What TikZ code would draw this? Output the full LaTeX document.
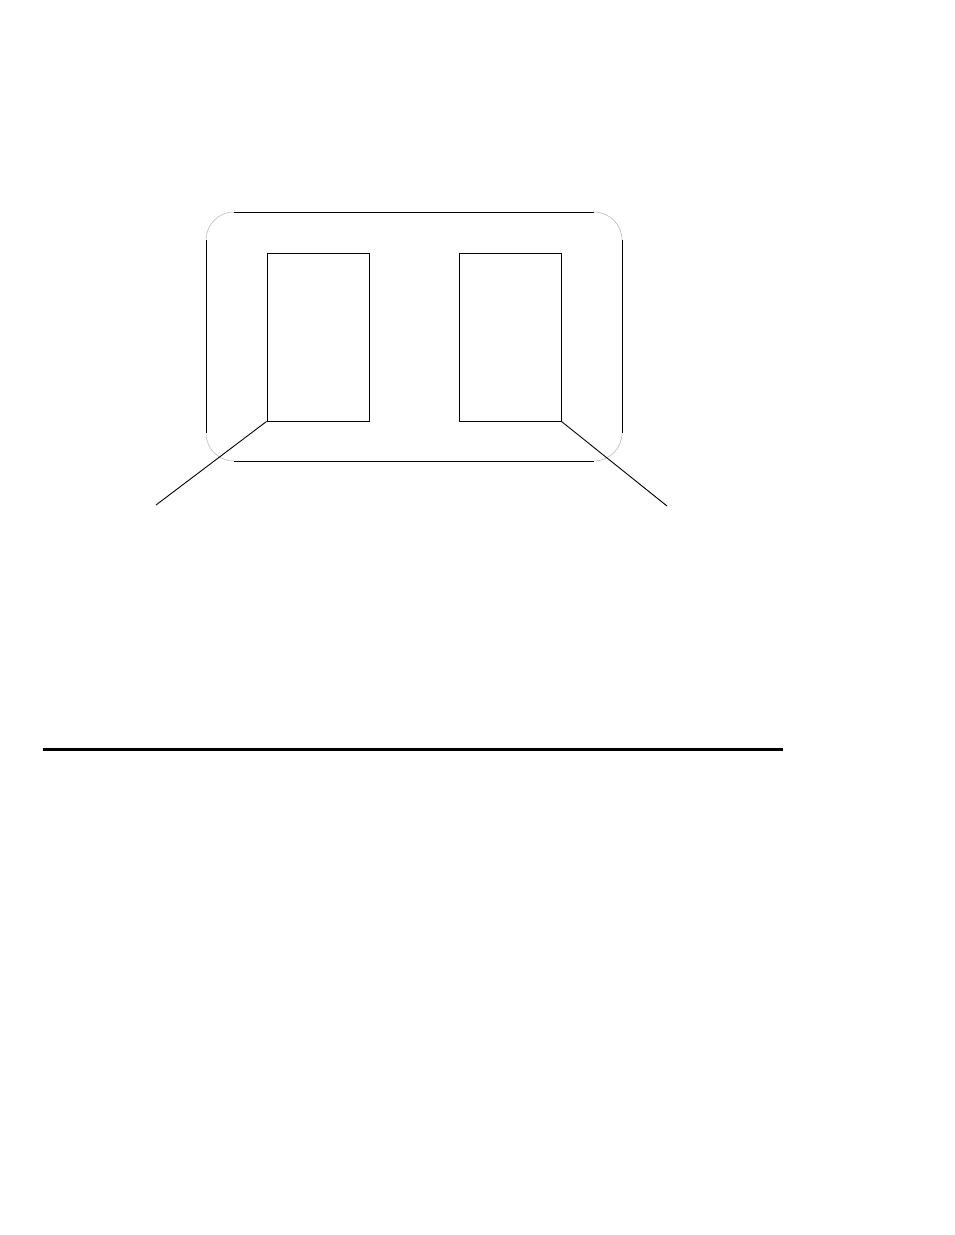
\documentclass[tikz,border=0pt]{standalone}
\usepackage{tikz}
\usetikzlibrary{positioning,calc}

\tikzset{
  cell/.style={draw, line width=0.9pt, minimum width=102pt, minimum height=168pt, inner sep=0pt},
  frame/.style={line width=0.9pt},
  framecorner/.style={line width=0.5pt, gray!60},
  leader/.style={line width=0.9pt}
}

\begin{document}
\begin{tikzpicture}[x=1pt,y=-1pt]
\useasboundingbox (0,0) rectangle (954,1235);

% Outer frame
\draw[frame] (234,212) -- (594,212);
\draw[frame] (622,240) -- (622,433);
\draw[frame] (594,461) -- (234,461);
\draw[frame] (206,433) -- (206,240);
\draw[framecorner] (206,240) arc[start angle=180, end angle=90, x radius=28, y radius=-28];
\draw[framecorner] (594,212) arc[start angle=90, end angle=0, x radius=28, y radius=-28];
\draw[framecorner] (622,433) arc[start angle=0, end angle=-90, x radius=28, y radius=-28];
\draw[framecorner] (234,461) arc[start angle=-90, end angle=-180, x radius=28, y radius=-28];

% Cells
\node[cell] (L) at (318,337) {};
\node[cell] (R) at (510,337) {};

% Leaders
\coordinate (lend) at (156,505);
\coordinate (rend) at (667,506);
\draw[leader] (L.south west) -- (lend);
\draw[leader] (R.south east) -- (rend);

% Rule
\coordinate (ruleA) at (43,749);
\coordinate (ruleB) at (783,749);
\draw[line width=3pt] (ruleA) -- (ruleB);
\end{tikzpicture}
\end{document}
